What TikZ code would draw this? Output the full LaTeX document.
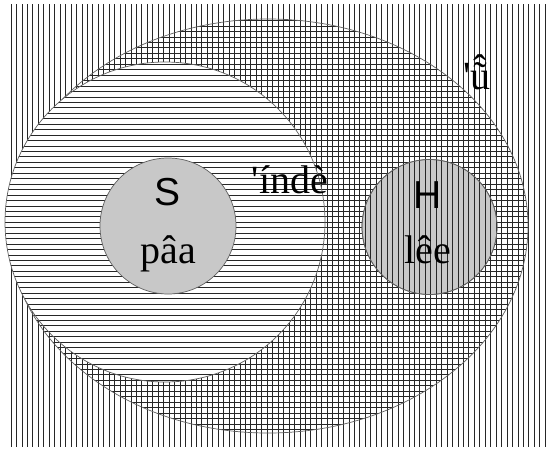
\documentclass[tikz,border=0pt]{standalone}
\usepackage{fontspec}
\newfontfamily\serifrm{Liberation Serif}
\newfontfamily\sansrm{Liberation Sans}
\usetikzlibrary{positioning}
\definecolor{setfill}{RGB}{200,200,200}
\definecolor{rimgray}{RGB}{95,95,95}
\newcommand{\hatu}{\leavevmode\setbox0\hbox{ũ}\rlap{\hbox to\wd0{\hss\raisebox{0.17em}{ˆ}\hss}}\box0}

\begin{document}
\begin{tikzpicture}[
    x=1pt, y=-1pt,
    hatch/.style={line width=0.65pt, black!85},
    rim/.style={draw=rimgray, line width=0.7pt},
    core/.style={circle, draw=rimgray, line width=0.7pt, fill=setfill, minimum size=#1, inner sep=0pt},
    letter/.style={font=\sansrm\fontsize{39}{44}\selectfont, inner sep=0pt, anchor=base},
    word/.style={font=\serifrm\fontsize{40}{46}\selectfont, inner sep=0pt, anchor=base}
]
\useasboundingbox (0,0) rectangle (552,448);

% Background hatching
\foreach \x in {11,16.45,...,549} \draw[hatch] (\x,4) -- (\x,447);

% Outer set (crossed)
\begin{scope}
  \clip (268,226) ellipse [x radius=260pt, y radius=207pt];
  \foreach \y in {4.2,9.65,...,447} \draw[hatch] (0,\y) -- (552,\y);
\end{scope}
\draw[rim] (268,226) ellipse [x radius=260pt, y radius=207pt];

% Left set (horizontal only)
\fill[white] (165,222) circle [radius=160pt];
\begin{scope}
  \clip (165,222) circle [radius=160pt];
  \foreach \y in {4.2,9.65,...,447} \draw[hatch] (0,\y) -- (552,\y);
\end{scope}
\draw[rim] (165,222) circle [radius=160pt];

% Inner sets
\node[core=136pt] (sset) at (168,226) {};
\node[core=135pt] (hset) at (429.5,227) {};
\begin{scope}
  \clip (429.5,227) circle [radius=67.5pt];
  \foreach \x in {11,16.45,...,549} \draw[hatch] (\x,150) -- (\x,300);
\end{scope}
\draw[rim] (hset.center) circle [radius=67.5pt];

% Labels
\node[letter] (slbl) at (168,205) {S};
\node[word] (sword) at (168,263) {pâa};
\node[letter] (hlbl) at (428,208) {H};
\node[word] (hword) at (428,263) {lêe};
\node[word] (midword) at (290,193) {'índè};
\node[word, anchor=base west] (topword) at (463,89) {'\hatu};

\end{tikzpicture}
\end{document}
